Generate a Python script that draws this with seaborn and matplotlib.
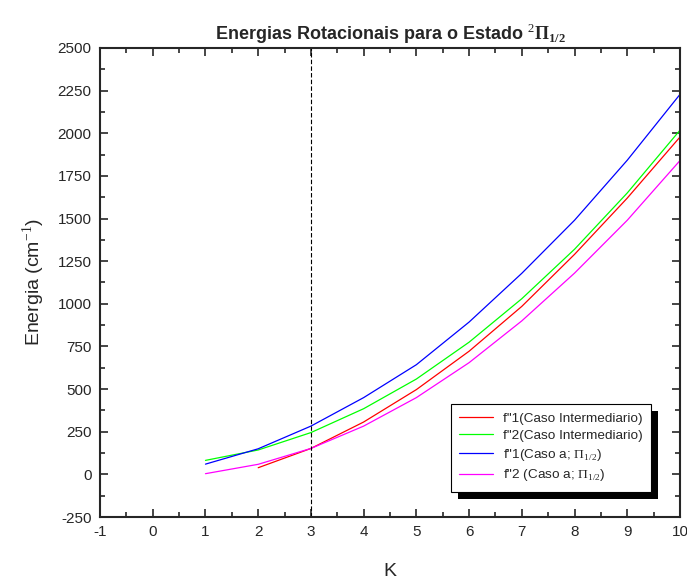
import numpy as np
import pandas as pd
import matplotlib
matplotlib.use("Agg")
import matplotlib.pyplot as plt
import seaborn as sns
from matplotlib.patches import Rectangle
from matplotlib.ticker import MultipleLocator

# valores
K = [1, 2, 3, 4, 5, 6, 7, 8, 9, 10]
f1_inter = [np.nan, 39, 152, 307, 497, 722, 985, 1290, 1620, 1978]
f2_inter = [82, 143, 245, 385, 559, 775, 1030, 1320, 1650, 2018]
f1_casoa = [60, 150, 283, 450, 643, 893, 1179, 1490, 1842, 2228]
f2_casoa = [4, 59, 152, 283, 450, 655, 900, 1180, 1490, 1840]

labels = ['f"1(Caso Intermediario)', 'f"2(Caso Intermediario)',
          r'f"1(Caso a; $\Pi_{1/2}$)', r'f"2 (Caso a; $\Pi_{1/2}$)']
colors = ['#ff0000', '#00ff00', '#0000ff', '#ff00ff']

sns.set_style("ticks")
plt.rcParams['font.family'] = ['Liberation Sans', 'DejaVu Sans']
plt.rcParams['axes.unicode_minus'] = False
plt.rcParams['mathtext.fontset'] = 'custom'
plt.rcParams['mathtext.rm'] = 'Liberation Serif'
plt.rcParams['mathtext.bf'] = 'Liberation Serif:bold'

fig = plt.figure(figsize=(6.87, 5.83), dpi=100)
ax = fig.add_axes([0.1456, 0.1132, 0.8442, 0.8045])

for vals, lab, c in zip([f1_inter, f2_inter, f1_casoa, f2_casoa], labels, colors):
    df = pd.DataFrame({'K': K, 'E': vals}).dropna()
    sns.lineplot(data=df, x='K', y='E', color=c, lw=0.9, label=lab, ax=ax)

ax.axvline(3, color='black', ls=(0, (4, 2)), lw=0.8)

ax.set_xlim(-1, 10)
ax.set_ylim(-250, 2500)
ax.set_xticks(range(-1, 11))
ax.set_yticks(range(-250, 2501, 250))
ax.xaxis.set_minor_locator(MultipleLocator(0.5))
ax.yaxis.set_minor_locator(MultipleLocator(125))
ax.tick_params(which='both', direction='in', top=True, right=True, labelsize=11, width=1.2)
ax.tick_params(which='major', length=6, pad=6)
ax.tick_params(which='minor', length=3.5)
for s in ax.spines.values():
    s.set_linewidth(1.5)

ax.set_xlabel('K', fontsize=14, labelpad=17)
ax.set_ylabel('Energia (cm$^{-1}$)', fontsize=14, labelpad=8)
ax.set_title(r'Energias Rotacionais para o Estado $^{2}\mathbf{\Pi}_{\mathbf{1/2}}$',
             fontsize=13, fontweight='bold', pad=6)

leg = ax.legend(loc='lower right', bbox_to_anchor=(0.962, 0.04), fontsize=9.7,
                frameon=True, fancybox=False, edgecolor='black', framealpha=1,
                handlelength=2.5, borderpad=0.6, labelspacing=0.35)
leg.get_frame().set_linewidth(0.8)
leg.set_zorder(10)

fig.canvas.draw()
bb = leg.get_window_extent().transformed(ax.transAxes.inverted())
dx = 7 / (0.8442 * 687)
dy = 7 / (0.8045 * 583)
ax.add_patch(Rectangle((bb.x0 + dx, bb.y0 - dy), bb.width, bb.height,
                       transform=ax.transAxes, facecolor='black', edgecolor='none',
                       zorder=9, clip_on=False))

fig.savefig('out.png', dpi=100)
